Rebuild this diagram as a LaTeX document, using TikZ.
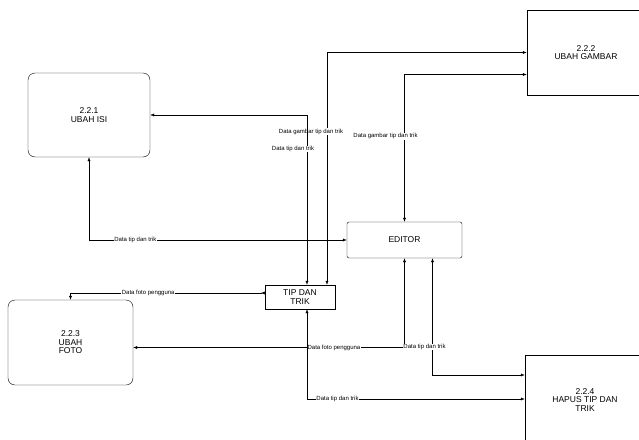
\documentclass[tikz,border=0pt]{standalone}
\usepackage{fontspec}
\setmainfont{Liberation Sans}
\usetikzlibrary{positioning, arrows.meta, calc}

\tikzset{
  proses/.style={draw, rounded corners=7pt, align=center, line width=0.4pt,
    font=\fontsize{8.5}{8.5}\selectfont},
  luar/.style={draw, align=center, line width=0.4pt, font=\fontsize{8.5}{8.5}\selectfont},
  simpan/.style={draw, align=center, line width=0.4pt, font=\fontsize{8.5}{8.5}\selectfont},
  flow/.style={<->, >={Latex[length=4pt,width=3pt]}, line width=0.4pt},
  ket/.style={font=\fontsize{6}{6}\selectfont, fill=white, inner sep=0.6pt},
}

\begin{document}
\begin{tikzpicture}[x=1pt, y=-1pt]
    \useasboundingbox (0,0) rectangle (639,439);
           \node[proses, minimum width=122pt, minimum height=84pt] (isi) at (89,115) {2.2.1\\UBAH ISI};
           \node[luar, minimum width=118pt, minimum height=85pt] (gambar) at (586,52.5) {2.2.2\\UBAH GAMBAR};
           \node[luar, rounded corners=2pt, minimum width=115pt, minimum height=36pt] (editor) at (404.5,240) {EDITOR};
           \node[simpan, minimum width=70pt, minimum height=24pt] (tip) at (300,297) {TIP DAN\\TRIK};
           \node[proses, minimum width=125pt, minimum height=85pt] (foto) at (70.5,342.5) {2.2.3\\UBAH\\FOTO};
           \node[luar, minimum width=120pt, minimum height=90pt] (hapus) at (585,400) {2.2.4\\HAPUS TIP DAN\\TRIK};

            % aliran ke tip dan trik
            \draw[flow] ([xshift=27pt]tip.north) |- (gambar.west)
                node[ket, pos=0.33, xshift=-16pt] {Data gambar tip dan trik};
            \draw[flow] (editor.north) |- ([yshift=-22pt]gambar.west)
                node[ket, pos=0.29, xshift=-19pt] {Data gambar tip dan trik};
            \draw[flow] (isi.east) -| ([xshift=7pt]tip.north)
                node[ket, pos=0.6, xshift=-14pt] {Data tip dan trik};
            \draw[flow] (editor.west) -| (isi.south)
                node[ket, pos=0.41] {Data tip dan trik};
            \draw[flow, {Latex[reversed,length=4pt,width=3pt]}-{Latex[length=4pt,width=3pt]}] ([yshift=4pt]tip.west) -| (foto.north)
                node[ket, pos=0.3] {Data foto pengguna};
            % aliran dari editor
            \draw[flow] (editor.south) |- ([yshift=-5pt]foto.east)
                node[ket, pos=0.63] {Data foto pengguna};
            \draw[flow] ([xshift=28pt]editor.south) |- ([yshift=25pt]hapus.west)
                node[ket, pos=0.38, xshift=-8pt] {Data tip dan trik};
            \draw[flow] ([xshift=7pt]tip.south) |- ([yshift=1pt]hapus.west)
                node[ket, pos=0.57] {Data tip dan trik};
        \end{tikzpicture}
\end{document}
